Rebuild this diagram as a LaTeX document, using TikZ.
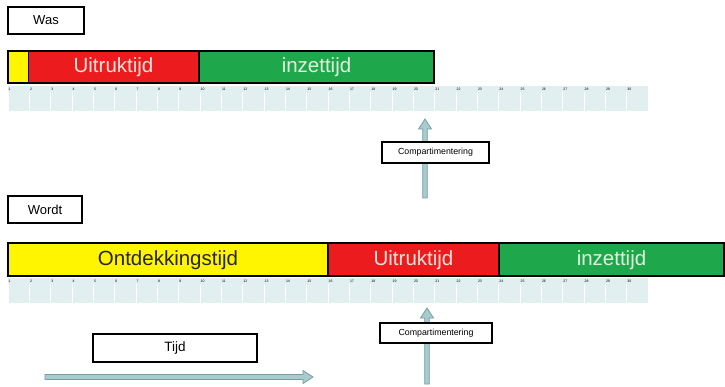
\documentclass[tikz,border=0pt]{standalone}
\usepackage{fontspec}
\setmainfont{Liberation Sans}
\usetikzlibrary{calc}
\definecolor{barred}{HTML}{EC1C1E}
\definecolor{bargreen}{HTML}{1FA74B}
\definecolor{baryellow}{HTML}{FFF500}
\definecolor{rulerbg}{HTML}{E2EFF1}
\definecolor{arrowfill}{HTML}{A9CBCD}
\definecolor{arrowdraw}{HTML}{74A0A2}
\definecolor{redtext}{HTML}{FBE3DC}
\definecolor{greentext}{HTML}{DDF3DD}
\tikzset{
  labelbox/.style={draw=black, line width=1.3pt, fill=white, inner sep=0pt},
  barseg/.style={draw=black, line width=1.2pt},
  bartext/.style={font=\fontsize{20.5}{20.5}\selectfont, inner sep=0pt},
  rulernum/.style={font=\fontsize{3.5}{3.5}\selectfont, inner sep=0pt, anchor=north west, text=black},
  blockarrow/.style={fill=arrowfill, draw=arrowdraw, line width=0.8pt, line join=miter}
}
\begin{document}
\begin{tikzpicture}[x=1pt,y=-1pt]
\useasboundingbox (0,0) rectangle (725,387);
\fill[white] (0,0) rectangle (725,387);

% ---------- Was ----------
\node[labelbox, minimum width=76pt, minimum height=27pt, font=\fontsize{13}{13}\selectfont] (was) at (46,20.5) {Was};

% top bar
\draw[barseg, fill=baryellow] (8,51) rectangle (28.5,83);
\draw[barseg, fill=barred] (28.5,51) rectangle (199,83);
\draw[barseg, fill=bargreen] (199,51) rectangle (434,83);
\node[bartext, text=redtext] (u1) at (113.5,67.5) {Uitruktijd};
\node[bartext, text=greentext] (i1) at (316.5,67.5) {inzettijd};

% top ruler
\fill[rulerbg] (8,86) rectangle (648,111);
\foreach \i in {1,...,30} {
  \draw[white, line width=0.6pt] ({8+(\i-1)*21.333},92) -- ({8+(\i-1)*21.333},111);
  \node[rulernum] (ra\i) at ({8.5+(\i-1)*21.333},87.5) {\i};
}

% top arrow + Compartimentering
\coordinate (a1s) at (425,198);
\coordinate (a1t) at (425,119);
\path[blockarrow] ($(a1s)+(-2.3,0)$) -- ($(a1t)+(-2.3,10)$) -- ($(a1t)+(-6.5,10)$) -- (a1t)
  -- ($(a1t)+(6.5,10)$) -- ($(a1t)+(2.3,10)$) -- ($(a1s)+(2.3,0)$) -- cycle;
\node[labelbox, minimum width=107pt, minimum height=21pt, font=\fontsize{8.8}{8.8}\selectfont] (c1) at (435.5,152.5) {Compartimentering};

% ---------- Wordt ----------
\node[labelbox, minimum width=74pt, minimum height=27pt, font=\fontsize{13}{13}\selectfont] (wordt) at (45,209.5) {Wordt};

% bottom bar
\draw[barseg, fill=baryellow] (8,243) rectangle (328,276);
\draw[barseg, fill=barred] (328,243) rectangle (499,276);
\draw[barseg, fill=bargreen] (499,243) rectangle (724,276);
\node[bartext, text=black!85] (o2) at (168,260) {Ontdekkingstijd};
\node[bartext, text=redtext] (u2) at (413.5,260) {Uitruktijd};
\node[bartext, text=greentext] (i2) at (611.5,260) {inzettijd};

% bottom ruler
\fill[rulerbg] (8,278) rectangle (648,303);
\foreach \i in {1,...,30} {
  \draw[white, line width=0.6pt] ({8+(\i-1)*21.333},284) -- ({8+(\i-1)*21.333},303);
  \node[rulernum] (rb\i) at ({8.5+(\i-1)*21.333},279.5) {\i};
}

% bottom vertical arrow + Compartimentering
\coordinate (a2s) at (427,384);
\coordinate (a2t) at (427,308);
\path[blockarrow] ($(a2s)+(-2.3,0)$) -- ($(a2t)+(-2.3,10)$) -- ($(a2t)+(-6.5,10)$) -- (a2t)
  -- ($(a2t)+(6.5,10)$) -- ($(a2t)+(2.3,10)$) -- ($(a2s)+(2.3,0)$) -- cycle;
\node[labelbox, minimum width=112pt, minimum height=20pt, font=\fontsize{8.8}{8.8}\selectfont] (c2) at (436,333) {Compartimentering};

% Tijd box and horizontal arrow
\node[labelbox, minimum width=164pt, minimum height=28pt, font=\fontsize{13.5}{13.5}\selectfont] (tijd) at (175,348) {Tijd};
\coordinate (h1s) at (45,377);
\coordinate (h1t) at (313,377);
\path[blockarrow] ($(h1s)+(0,-2.5)$) -- ($(h1t)+(-10,-2.5)$) -- ($(h1t)+(-10,-6.5)$) -- (h1t)
  -- ($(h1t)+(-10,6.5)$) -- ($(h1t)+(-10,2.5)$) -- ($(h1s)+(0,2.5)$) -- cycle;
\end{tikzpicture}
\end{document}
